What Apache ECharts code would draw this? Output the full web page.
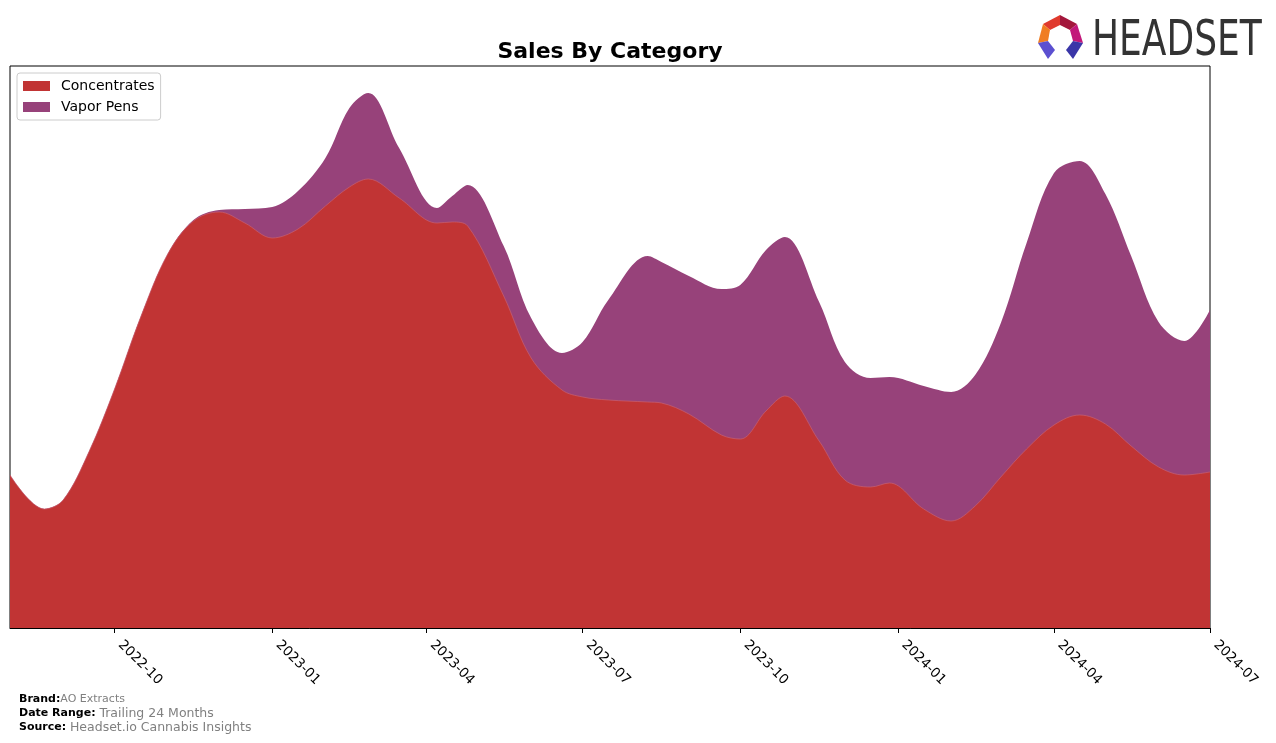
<!DOCTYPE html>
<html>
<head>
<meta charset="utf-8">
<script src="https://cdn.jsdelivr.net/npm/echarts@6/dist/echarts.min.js"></script>
<style>
html,body{margin:0;padding:0;background:#fff;}
#chart{width:1276px;height:743px;}
</style>
</head>
<body>
<div id="chart"></div>
<script>
// Sample dates (roughly semi-monthly, plus turning points)
const dates = [
  '2022-08-01','2022-08-21','2022-09-01','2022-09-16','2022-10-01','2022-10-16',
  '2022-11-01','2022-11-16','2022-12-01','2022-12-16','2023-01-01','2023-01-16',
  '2023-02-01','2023-02-15','2023-02-26','2023-03-16','2023-04-07','2023-04-16',
  '2023-04-25','2023-05-16','2023-06-01','2023-06-19','2023-07-01','2023-07-16',
  '2023-08-08','2023-08-16','2023-09-01','2023-09-20','2023-10-01','2023-10-16',
  '2023-10-27','2023-11-16','2023-12-01','2023-12-16','2023-12-27','2024-01-16',
  '2024-02-01','2024-02-15','2024-03-01','2024-03-16','2024-04-01','2024-04-16',
  '2024-05-01','2024-05-16','2024-06-01','2024-06-16','2024-07-01'
];
const concentrates = [
  153,119,128,176,239,310,
  374,407,416,405,390,399,
  422,441,449,430,405,406,
  402,332,270,238,231,228,
  226,225,214,193,189,217,
  232,187,148,141,145,119,
  107,122,151,179,203,213,
  204,182,161,153,156
];
const vaporPens = [
  0,0,0,0,0,0,
  0,1,2,14,31,38,
  48,79,86,50,15,26,
  41,50,40,37,55,100,
  146,141,138,146,154,161,
  159,139,118,109,106,123,
  129,131,154,206,252,254,
  230,190,145,134,162
];
const tickLabels = ['2022-10','2023-01','2023-04','2023-07','2023-10','2024-01','2024-04','2024-07'];
const xStart = '2022-08-01';
const xEnd = '2024-07-01';

const ts = s => Date.parse(s + 'T00:00:00Z');
const tickValues = tickLabels.map(s => ts(s + '-01'));
const FONT = 'DejaVu Sans';
// top edge of the Vapor Pens band = Concentrates + Vapor Pens (stacked)
const stackedTop = concentrates.map((c, i) => c + vaporPens[i]);
const SMOOTH = 0.35;

const chart = echarts.init(document.getElementById('chart'), null, {renderer: 'canvas'});
const option = {
  animation: false,
  backgroundColor: '#fff',
  title: {
    text: 'Sales By Category',
    left: 605, top: 36, textAlign: 'center',
    textStyle: {fontFamily: FONT, fontSize: 22, fontWeight: 'bold', color: '#000'}
  },
  legend: {
    orient: 'vertical', left: 17, top: 73,
    icon: 'rect', itemWidth: 27, itemHeight: 10, itemGap: 7,
    padding: [6, 6, 6, 6],
    borderColor: '#cccccc', borderWidth: 1, borderRadius: 3,
    backgroundColor: '#fff',
    textStyle: {fontFamily: FONT, fontSize: 14, color: '#000', padding: [0, 0, 0, 6]},
    data: ['Concentrates', 'Vapor Pens']
  },
  grid: {
    left: 10, right: 66, top: 66, bottom: 115,
    show: true, borderColor: '#000', borderWidth: 1, backgroundColor: 'transparent'
  },
  xAxis: {
    type: 'value',
    min: ts(xStart), max: ts(xEnd),
    splitLine: {show: false},
    axisLine: {show: true, lineStyle: {color: '#000', width: 1}},
    axisTick: {show: true, customValues: tickValues, length: 5, lineStyle: {color: '#000'}},
    axisLabel: {
      customValues: tickValues,
      rotate: -45, margin: 9, padding: [0, 0, 0, 8],
      fontFamily: FONT, fontSize: 13.5, color: '#000',
      formatter: v => {
        const d = new Date(v);
        return d.getUTCFullYear() + '-' + String(d.getUTCMonth() + 1).padStart(2, '0');
      }
    }
  },
  yAxis: {
    type: 'value', min: 0, max: 562,
    show: true,
    axisLine: {show: false}, axisTick: {show: false}, axisLabel: {show: false},
    splitLine: {show: false}
  },
  series: [
    {
      name: 'Vapor Pens', type: 'line', smooth: SMOOTH,
      symbol: 'none', z: 2,
      itemStyle: {color: '#97427A'},
      lineStyle: {width: 0},
      areaStyle: {color: '#97427A', opacity: 1},
      data: dates.map((d, i) => [ts(d), stackedTop[i]])
    },
    {
      name: 'Concentrates', type: 'line', smooth: SMOOTH,
      symbol: 'none', z: 3,
      itemStyle: {color: '#C13434'},
      lineStyle: {width: 0.7, color: '#C86070'},
      areaStyle: {color: '#C13434', opacity: 1},
      data: dates.map((d, i) => [ts(d), concentrates[i]])
    }
  ],
  graphic: [
    // Footer
    {type: 'text', left: 19, top: 694, style: {
      text: '{b|Brand:}{g|AO Extracts}',
      rich: {b: {fontFamily: FONT, fontSize: 11, fontWeight: 'bold', fill: '#000'},
             g: {fontFamily: FONT, fontSize: 11, fill: '#808080'}}
    }},
    {type: 'text', left: 19, top: 707, style: {
      text: '{b|Date Range: }{g|Trailing 24 Months}',
      rich: {b: {fontFamily: FONT, fontSize: 11, fontWeight: 'bold', fill: '#000'},
             g: {fontFamily: FONT, fontSize: 12.5, fill: '#808080'}}
    }},
    {type: 'text', left: 19, top: 721, style: {
      text: '{b|Source: }{g|Headset.io Cannabis Insights}',
      rich: {b: {fontFamily: FONT, fontSize: 11, fontWeight: 'bold', fill: '#000'},
             g: {fontFamily: FONT, fontSize: 12.5, fill: '#808080'}}
    }},
    // Logo icon
    {type: 'polygon', shape: {points: [[1043,24],[1060,15],[1060,25],[1050,30]]}, style: {fill: '#E03A2E'}},
    {type: 'polygon', shape: {points: [[1060,15],[1077,24],[1070,30],[1060,25]]}, style: {fill: '#A3173C'}},
    {type: 'polygon', shape: {points: [[1077,24],[1083,43],[1073,41],[1070,30]]}, style: {fill: '#C2187A'}},
    {type: 'polygon', shape: {points: [[1043,24],[1050,30],[1048,41],[1038,43]]}, style: {fill: '#F07D22'}},
    {type: 'polygon', shape: {points: [[1038,43],[1048,41],[1055,50],[1048,59]]}, style: {fill: '#5B4FD0'}},
    {type: 'polygon', shape: {points: [[1083,43],[1073,41],[1066,50],[1073,59]]}, style: {fill: '#3A36A8'}},
    {type: 'text', x: 1092, y: 42, scaleX: 0.8, scaleY: 1, style: {
      text: 'HEADSET', fontFamily: 'DejaVu Sans Condensed', fontSize: 50, fill: '#333333',
      verticalAlign: 'middle', align: 'left'
    }}
  ]
};
chart.setOption(option);
</script>
</body>
</html>
